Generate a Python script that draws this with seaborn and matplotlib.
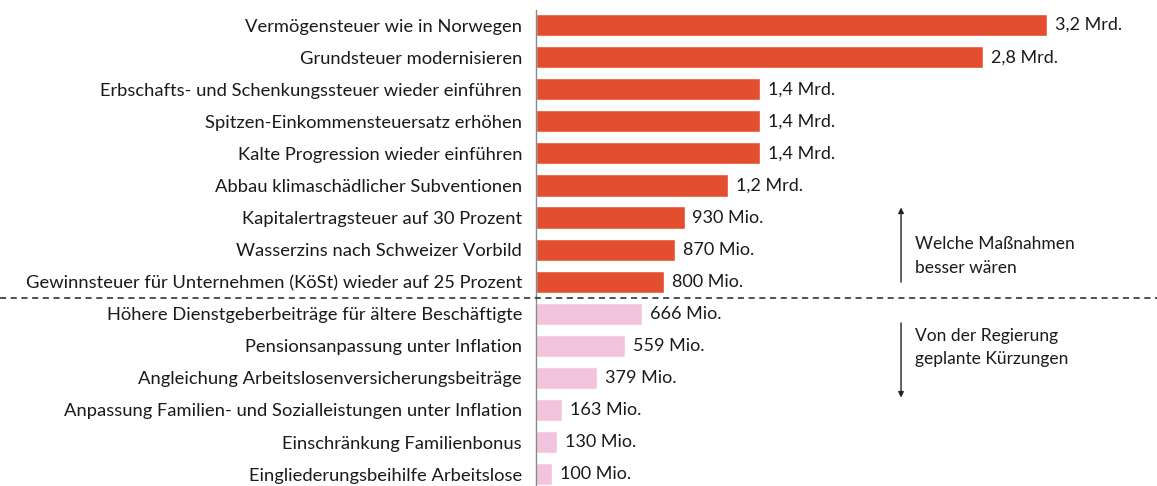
import pandas as pd
import seaborn as sns
import matplotlib.pyplot as plt
from matplotlib.lines import Line2D

# data (Mio. Euro)
measures = [
    "Vermögensteuer wie in Norwegen",
    "Grundsteuer modernisieren",
    "Erbschafts- und Schenkungssteuer wieder einführen",
    "Spitzen-Einkommensteuersatz erhöhen",
    "Kalte Progression wieder einführen",
    "Abbau klimaschädlicher Subventionen",
    "Kapitalertragsteuer auf 30 Prozent",
    "Wasserzins nach Schweizer Vorbild",
    "Gewinnsteuer für Unternehmen (KöSt) wieder auf 25 Prozent",
    "Höhere Dienstgeberbeiträge für ältere Beschäftigte",
    "Pensionsanpassung unter Inflation",
    "Angleichung Arbeitslosenversicherungsbeiträge",
    "Anpassung Familien- und Sozialleistungen unter Inflation",
    "Einschränkung Familienbonus",
    "Eingliederungsbeihilfe Arbeitslose",
]
values = [3200, 2800, 1400, 1400, 1400, 1200, 930, 870, 800, 666, 559, 379, 163, 130, 100]
value_labels = ["3,2 Mrd.", "2,8 Mrd.", "1,4 Mrd.", "1,4 Mrd.", "1,4 Mrd.", "1,2 Mrd.",
                "930 Mio.", "870 Mio.", "800 Mio.", "666 Mio.", "559 Mio.", "379 Mio.",
                "163 Mio.", "130 Mio.", "100 Mio."]
groups = ["besser"] * 9 + ["kuerzung"] * 6

df = pd.DataFrame({"measure": measures, "value": values, "group": groups})

sns.set_style("white")
plt.rcParams["font.family"] = ["Lato", "DejaVu Sans"]

fig = plt.figure(figsize=(11.57, 4.86), dpi=100)
ax = fig.add_axes([536 / 1157, 0, 621 / 1157, 1 - 10 / 486])

sns.barplot(data=df, x="value", y="measure", hue="group",
            palette={"besser": "#e34f2e", "kuerzung": "#f1c3df"}, saturation=1,
            dodge=False, legend=False, width=0.69, orient="h", ax=ax)

ax.set_xlim(0, 3889)
ax.set_ylim(14.37, -0.47)
ax.set_xlabel("")
ax.set_ylabel("")
ax.set_xticks([])
ax.tick_params(axis="y", length=0, pad=10, labelsize=13.2, labelcolor="#1a1a1a")
for s in ["top", "right", "bottom"]:
    ax.spines[s].set_visible(False)
ax.spines["left"].set_color("#8a8a8a")
ax.spines["left"].set_linewidth(1)

# value labels
for i, (v, lab) in enumerate(zip(values, value_labels)):
    ax.text(v + 50, i, lab, va="center", ha="left", fontsize=13, color="#1a1a1a")

# dashed separator across the whole figure
fig.add_artist(Line2D([0, 1], [1 - 297.6 / 486] * 2, transform=fig.transFigure,
                      color="#222222", linestyle=(0, (4, 3)), linewidth=1.1))

# right-hand annotations
ax.annotate("", xy=(2286, 5.6), xytext=(2286, 8.1),
            arrowprops=dict(arrowstyle="-|>", color="#222222", lw=1, mutation_scale=8))
ax.annotate("", xy=(2286, 11.7), xytext=(2286, 9.2),
            arrowprops=dict(arrowstyle="-|>", color="#222222", lw=1, mutation_scale=8))
ax.text(2374, 7.2, "Welche Maßnahmen\nbesser wären", va="center", ha="left",
        fontsize=12.5, color="#1a1a1a", linespacing=1.6)
ax.text(2374, 10.05, "Von der Regierung\ngeplante Kürzungen", va="center", ha="left",
        fontsize=12.5, color="#1a1a1a", linespacing=1.6)

fig.savefig("out.png", dpi=100)
